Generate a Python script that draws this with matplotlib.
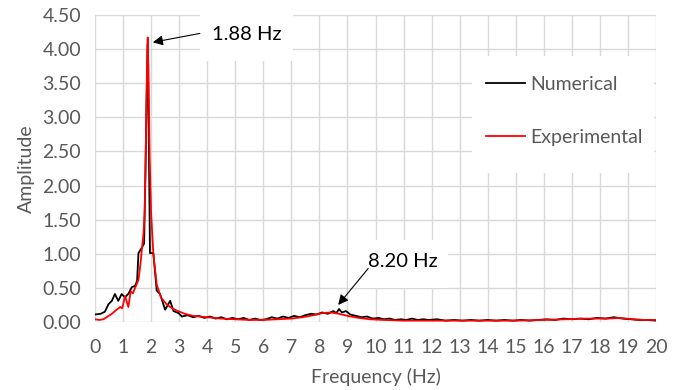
import matplotlib
matplotlib.use('Agg')
import matplotlib.pyplot as plt
from matplotlib.patches import Rectangle

# frequency (Hz) / amplitude
freq_num = [0.0, 0.2, 0.35, 0.48, 0.6, 0.71, 0.83, 0.95, 1.07, 1.2, 1.31, 1.43, 1.5, 1.55,
            1.67, 1.75, 1.8, 1.84, 1.88, 1.92, 1.96, 2.08, 2.2, 2.32, 2.5, 2.68, 2.8, 2.98,
            3.1, 3.3, 3.5, 3.7, 3.9, 4.1, 4.3, 4.5, 4.7, 4.9, 5.1, 5.3, 5.5, 5.7, 5.9,
            6.1, 6.3, 6.5, 6.7, 6.9, 7.1, 7.3, 7.5, 7.7, 7.9, 8.1, 8.3, 8.5, 8.6, 8.7,
            8.8, 8.95, 9.1, 9.3, 9.5, 9.7, 9.9, 10.1, 10.3, 10.5, 10.7, 10.9, 11.1, 11.3,
            11.5, 11.7, 11.9, 12.2, 12.5, 12.8, 13.1, 13.4, 13.7, 14.0, 14.3, 14.6, 14.9,
            15.2, 15.5, 15.8, 16.1, 16.4, 16.7, 17.0, 17.3, 17.6, 17.9, 18.2, 18.5, 18.8,
            19.1, 19.4, 19.7, 20.0]
amp_num = [0.11, 0.12, 0.15, 0.26, 0.31, 0.41, 0.31, 0.41, 0.36, 0.42, 0.51, 0.53, 0.6, 1.01,
           1.09, 1.15, 2.2, 3.3, 4.08, 2.6, 1.01, 1.01, 0.46, 0.41, 0.18, 0.31, 0.16, 0.13,
           0.08, 0.10, 0.07, 0.09, 0.06, 0.08, 0.05, 0.07, 0.04, 0.06, 0.04, 0.06, 0.03, 0.05, 0.03,
           0.04, 0.07, 0.05, 0.08, 0.06, 0.09, 0.07, 0.10, 0.12, 0.11, 0.14, 0.12, 0.16, 0.13, 0.19,
           0.14, 0.16, 0.11, 0.09, 0.07, 0.08, 0.05, 0.06, 0.04, 0.05, 0.03, 0.04, 0.03, 0.05,
           0.03, 0.04, 0.03, 0.04, 0.02, 0.03, 0.02, 0.03, 0.02, 0.03, 0.02, 0.03, 0.02,
           0.03, 0.02, 0.03, 0.04, 0.03, 0.05, 0.04, 0.05, 0.04, 0.06, 0.05, 0.07, 0.05,
           0.04, 0.03, 0.03, 0.02]

freq_exp = [0.0, 0.15, 0.3, 0.45, 0.6, 0.77, 0.9, 0.97, 1.07, 1.13, 1.19, 1.27, 1.35, 1.43,
            1.55, 1.62, 1.67, 1.73, 1.77, 1.82, 1.86, 1.88, 1.91, 1.95, 2.0, 2.08, 2.2, 2.35,
            2.55, 2.75, 2.9, 3.2, 3.5, 4.0, 4.5, 5.0, 5.5, 6.0, 6.5, 7.0, 7.4, 7.8, 8.1, 8.4,
            8.7, 9.0, 9.4, 9.8, 10.3, 11.0, 12.0, 13.0, 14.0, 15.0, 16.0, 16.8, 17.5, 18.3,
            18.7, 19.2, 19.6, 20.0]
amp_exp = [0.04, 0.03, 0.04, 0.08, 0.12, 0.18, 0.22, 0.2, 0.38, 0.3, 0.22, 0.45, 0.42, 0.5,
           0.62, 0.85, 1.06, 1.3, 1.6, 2.8, 3.9, 4.17, 3.6, 2.4, 1.6, 1.0, 0.55, 0.36,
           0.26, 0.2, 0.17, 0.12, 0.09, 0.07, 0.05, 0.04, 0.03, 0.03, 0.04, 0.05, 0.07, 0.10, 0.13, 0.14,
           0.12, 0.09, 0.06, 0.04, 0.03, 0.02, 0.02, 0.02, 0.02, 0.02, 0.03, 0.04, 0.05, 0.05,
           0.06, 0.04, 0.03, 0.03]

plt.rcParams['font.family'] = ['Lato', 'DejaVu Sans']
gray = '#595959'

fig = plt.figure(figsize=(6.8, 3.9), dpi=100)
ax = fig.add_axes([95/680, 1 - 322/390, 561/680, 307/390])

ax.set_xlim(0, 20)
ax.set_ylim(0, 4.5)
ax.set_xticks(range(0, 21))
ax.set_yticks([i * 0.5 for i in range(10)])
ax.set_yticklabels(['%.2f' % (i * 0.5) for i in range(10)])
ax.grid(True, color='#d9d9d9', lw=1.0)
ax.set_axisbelow(True)
for s in ax.spines.values():
    s.set_visible(False)
ax.tick_params(length=0, labelsize=14, colors=gray)
ax.tick_params(axis='x', pad=12)
ax.tick_params(axis='y', pad=10)

# white boxes behind labels and legend hide the grid
ax.add_patch(Rectangle((3.74, 3.83), 3.32, 0.8, facecolor='white', edgecolor='none',
                       zorder=1.5, clip_on=False))
ax.add_patch(Rectangle((9.02, 0.50), 3.56, 0.70, facecolor='white', edgecolor='none', zorder=1.5))
ax.add_patch(Rectangle((13.44, 2.18), 6.5, 1.72, facecolor='white', edgecolor='none', zorder=1.5))

ax.plot(freq_num, amp_num, color='black', lw=1.3, label='Numerical', zorder=3)
ax.plot(freq_exp, amp_exp, color='#ff0000', lw=1.3, label='Experimental', zorder=4)

arrow = dict(arrowstyle='-|>', color='black', lw=0.8, mutation_scale=15, shrinkA=0, shrinkB=0)
ax.annotate('', xy=(2.06, 4.10), xytext=(3.74, 4.23), arrowprops=arrow, zorder=5)
ax.text(5.42, 4.22, '1.88 Hz', fontsize=14.5, color='black', ha='center', va='center', zorder=5)
ax.annotate('', xy=(8.67, 0.25), xytext=(9.74, 0.785), arrowprops=arrow, zorder=5)
ax.text(10.98, 0.88, '8.20 Hz', fontsize=14.5, color='black', ha='center', va='center', zorder=5)

leg = ax.legend(loc='upper left', bbox_to_anchor=(13.65 / 20, 3.72 / 4.5), frameon=False,
                fontsize=14, handlelength=2.0, labelspacing=1.85, handletextpad=0.3,
                borderaxespad=0)
for t in leg.get_texts():
    t.set_color(gray)

ax.set_xlabel('Frequency (Hz)', fontsize=14, color=gray, labelpad=9)
ax.set_ylabel('Amplitude', fontsize=14, color=gray, labelpad=5)

fig.savefig('out.png', dpi=100)
